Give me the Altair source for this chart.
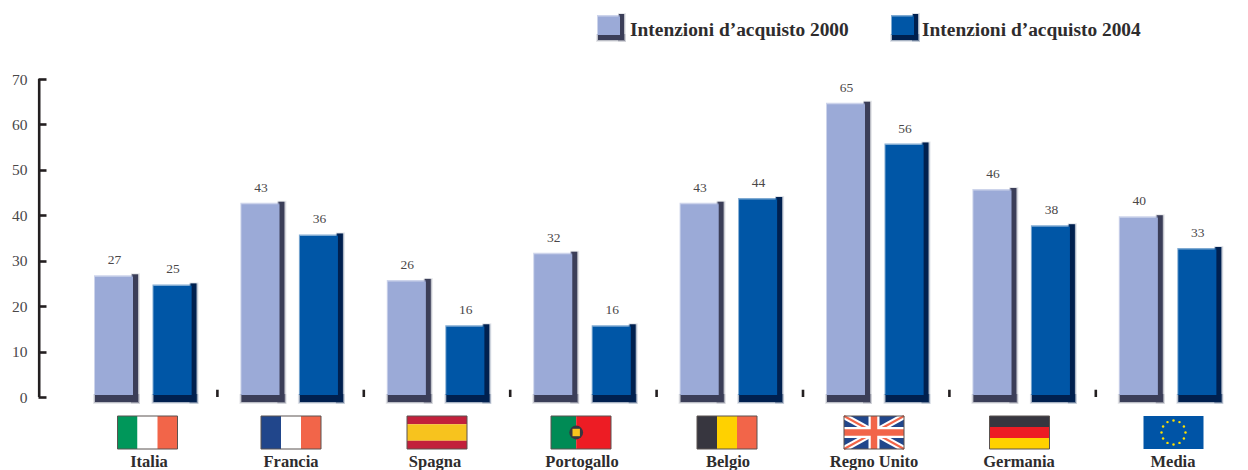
import math
import altair as alt
import pandas as pd

countries = ["Italia", "Francia", "Spagna", "Portogallo", "Belgio", "Regno Unito", "Germania", "Media"]
values_2000 = [27, 43, 26, 32, 43, 65, 46, 40]
values_2004 = [25, 36, 16, 16, 44, 56, 38, 33]
y_ticks = [0, 10, 20, 30, 40, 50, 60, 70]
legend_labels = ["Intenzioni d’acquisto 2000", "Intenzioni d’acquisto 2004"]

LIGHT, LIGHT_SH = "#9BAAD7", "#3B3E58"
DARK, DARK_SH = "#0056A6", "#00204F"
INK = "#2e2c2d"
GREY = "#4a4748"
SERIF = "Liberation Serif"

STEP = 146.4
X0 = 71.0
PY = 318 / 70

def ux(px):
    return (px - X0) / STEP

def up(px):          # pixels of width -> group units
    return px / STEP

def vy(px):          # page pixel row -> value
    return (397 - px) * 70 / 318

x_scale = alt.Scale(domain=[ux(38), ux(1240)], nice=False, zero=False)
y_scale = alt.Scale(domain=[vy(470), vy(8)], nice=False, zero=False)
y_axis = alt.Axis(
    values=y_ticks, domain=False, grid=False, title=None, orient="left",
    offset=-8, tickSize=8, tickWidth=2.6, tickColor="#231f20",
    labelFont=SERIF, labelFontSize=15.5, labelColor=GREY, labelPadding=11)
X = alt.X("x:Q", scale=x_scale, axis=None)
X2 = alt.X2("x2:Q")
Y = alt.Y("y:Q", scale=y_scale, axis=y_axis)
Y2 = alt.Y2("y2:Q")

def rects(rows, **kw):
    return alt.Chart(pd.DataFrame(rows)).mark_rect(**kw).encode(
        x=X, x2=X2, y=Y, y2=Y2, color=alt.Color("c:N", scale=None))

# ---- bars: a face with a shadow strip on its right and along its foot, softened by fainter halos
halo2, halo1, shadow, face_soft, face, labels = [], [], [], [], [], []
def add_block(l, r, top, foot, right_w, foot_h, face_col, sh_col):
    """l, r, top, foot are page pixels of the whole block."""
    fr = r - right_w
    ff = foot - foot_h
    for e, store, in ((2, halo2), (1, halo1)):
        store.append(dict(x=ux(fr - 2), x2=ux(r + e), y=vy(top - e + 1), y2=vy(foot + e), c=sh_col))
        store.append(dict(x=ux(l - e), x2=ux(r + e), y=vy(ff - 1), y2=vy(foot + e), c=sh_col))
    shadow.append(dict(x=ux(fr - 1), x2=ux(r), y=vy(top), y2=vy(foot), c=sh_col))
    shadow.append(dict(x=ux(l), x2=ux(r), y=vy(ff - 1), y2=vy(foot), c=sh_col))
    face_soft.append(dict(x=ux(l - 1), x2=ux(fr), y=vy(top + 1), y2=vy(ff), c=face_col))
    face.append(dict(x=ux(l), x2=ux(fr), y=vy(top + 2.5), y2=vy(ff), c=face_col))

for i, c in enumerate(countries):
    for v, off, col, sh in ((values_2000[i], 95 - X0, LIGHT, LIGHT_SH), (values_2004[i], 153.5 - X0, DARK, DARK_SH)):
        left_px = X0 + (i * STEP) + off
        top_px = 397 - v * PY
        add_block(left_px, left_px + 43, top_px, 402, 5, 7, col, sh)
        labels.append(dict(x=ux(left_px + 19.5), y=v, t=str(v)))

label_l = alt.Chart(pd.DataFrame(labels)).mark_text(
    font=SERIF, fontSize=13.5, color=GREY, baseline="bottom", dy=-7).encode(x=X, y=Y, text="t:N")

# ---- y axis
spine_l = alt.Chart(pd.DataFrame({"y": [0], "y2": [70]})).mark_rule(
    color="#231f20", strokeWidth=2.6).encode(x=alt.value(1.2), y=Y, y2=Y2)

# ---- separators
sep_l = alt.Chart(pd.DataFrame({"x": list(range(1, 8)), "y": [0] * 7, "y2": [1.6] * 7})).mark_rule(
    color="#231f20", strokeWidth=2.6).encode(x=X, y=Y, y2=Y2)

# ---- flags
F_T, F_B = vy(416), vy(449)
HALF = up(30)
flag_centres = [147.5, 291, 437, 581, 727, 874, 1019.5, 1173.5]
label_centres = [149, 291, 435, 582, 728, 874, 1019, 1173]
def centre(i):
    return ux(flag_centres[i])

GREEN, WHITE, ORANGE = "#00975A", "#FFFFFF", "#F26549"
BLUE, BLACK, GOLD, RED = "#21468B", "#37363F", "#FFD100", "#ED1C24"
v_flags = {0: [GREEN, WHITE, ORANGE], 1: [BLUE, WHITE, ORANGE], 4: [BLACK, GOLD, ORANGE]}
flag_rows = []
for i, cols in v_flags.items():
    c = centre(i)
    for k, col in enumerate(cols):
        flag_rows.append(dict(x=c - HALF + 2 * HALF * k / 3, x2=c - HALF + 2 * HALF * (k + 1) / 3, y=F_T, y2=F_B, c=col))
h = F_T - F_B
for a, b, col in [(0, 1 / 3, BLACK), (1 / 3, 2 / 3, RED), (2 / 3, 1, GOLD)]:
    flag_rows.append(dict(x=centre(6) - HALF, x2=centre(6) + HALF, y=F_T - a * h, y2=F_T - b * h, c=col))
for a, b, col in [(0, 0.25, "#C2203B"), (0.25, 0.75, "#F7C31E"), (0.75, 1, "#C2203B")]:
    flag_rows.append(dict(x=centre(2) - HALF, x2=centre(2) + HALF, y=F_T - a * h, y2=F_T - b * h, c=col))
flag_rows.append(dict(x=centre(3) - HALF, x2=centre(3) - HALF + 2 * HALF * 0.42, y=F_T, y2=F_B, c="#008B55"))
flag_rows.append(dict(x=centre(3) - HALF + 2 * HALF * 0.42, x2=centre(3) + HALF, y=F_T, y2=F_B, c=RED))
flag_rows.append(dict(x=centre(5) - HALF, x2=centre(5) + HALF, y=F_T, y2=F_B, c=BLUE))
flag_rows.append(dict(x=centre(7) - HALF, x2=centre(7) + HALF, y=F_T, y2=F_B, c="#0054A6"))
flags_l = rects(flag_rows)

uk = centre(5)
uk_mid = (F_T + F_B) / 2
diag = [dict(x=uk - HALF, x2=uk + HALF, y=F_T, y2=F_B), dict(x=uk - HALF, x2=uk + HALF, y=F_B, y2=F_T)]
def rules(rows, col, w):
    return alt.Chart(pd.DataFrame(rows)).mark_rule(color=col, strokeWidth=w).encode(x=X, x2=X2, y=Y, y2=Y2)
cross = [dict(x=uk - HALF, x2=uk + HALF, y=uk_mid, y2=uk_mid), dict(x=uk, x2=uk, y=F_T, y2=F_B)]
uk_layers = [rules(diag, "#FFFFFF", 6), rules(diag, ORANGE, 2), rules(cross, "#FFFFFF", 11), rules(cross, ORANGE, 6.5)]

border_rows = [dict(x=centre(i) - HALF, x2=centre(i) + HALF, y=F_T, y2=F_B) for i in range(7)]
border_l = alt.Chart(pd.DataFrame(border_rows)).mark_rect(
    fillOpacity=0, stroke="#5a5350", strokeWidth=1).encode(x=X, x2=X2, y=Y, y2=Y2)

pt = centre(3) - HALF + 2 * HALF * 0.42
pm = (F_T + F_B) / 2
pt_l1 = alt.Chart(pd.DataFrame([dict(x=pt, y=pm)])).mark_point(
    filled=True, size=190, color=BLACK, opacity=1).encode(x=X, y=Y)
pt_l2 = alt.Chart(pd.DataFrame([dict(x=pt, y=pm)])).mark_point(
    filled=True, shape="square", size=55, color="#F7C31E", opacity=1).encode(x=X, y=Y)

stars = []
for k in range(12):
    a = 2 * math.pi * k / 12
    stars.append(dict(x=centre(7) + up(12) * math.cos(a), y=(F_T + F_B) / 2 + 12 * 70 / 318 * math.sin(a)))
stars_l = alt.Chart(pd.DataFrame(stars)).mark_point(
    filled=True, size=6, color="#FFE000", opacity=1).encode(x=X, y=Y)

# ---- country labels
cl = pd.DataFrame([dict(x=ux(label_centres[i]), y=vy(467), t=c) for i, c in enumerate(countries)])
country_l = alt.Chart(cl).mark_text(
    font=SERIF, fontSize=16.5, fontWeight="bold", color=INK, baseline="alphabetic").encode(x=X, y=Y, text="t:N")

# ---- legend
leg_txt = []
for left, tx, col, sh, lab in ((598, 630, LIGHT, LIGHT_SH, legend_labels[0]), (892, 922, DARK, DARK_SH, legend_labels[1])):
    add_block(left, left + 26, 14, 40, 4, 5, col, sh)
    leg_txt.append(dict(x=ux(tx), y=vy(36), t=lab))
leg_text_l = alt.Chart(pd.DataFrame(leg_txt)).mark_text(
    font=SERIF, fontSize=19.4, fontWeight="bold", color=INK, align="left", baseline="alphabetic").encode(
    x=X, y=Y, text="t:N")

chart = alt.layer(
    spine_l, sep_l,
    rects(halo2, opacity=0.12), rects(halo1, opacity=0.25), rects(shadow),
    rects(face_soft, opacity=0.5), rects(face),
    label_l, flags_l, *uk_layers, border_l,
    pt_l1, pt_l2, stars_l, country_l, leg_text_l,
).resolve_scale(x="shared", y="shared").properties(
    width=1202, height=462,
    autosize=alt.AutoSizeParams(type="none"),
    padding={"left": 30, "top": 0, "right": 0, "bottom": 0},
    background="#ffffff",
).configure_view(stroke=None)

chart.save("out.html", embed_options={"renderer": "svg", "actions": False})
